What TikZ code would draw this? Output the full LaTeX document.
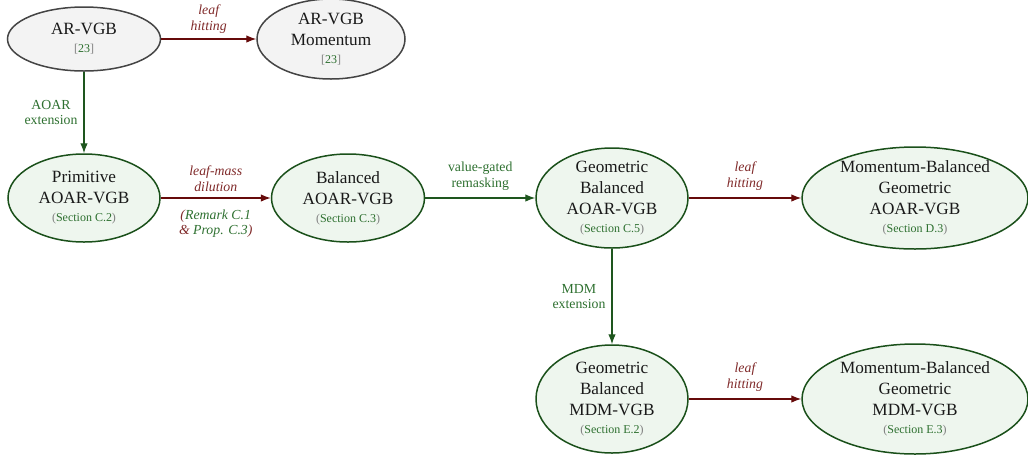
\documentclass[tikz,border=0pt]{standalone}
\usepackage{fontspec}
\setmainfont{Liberation Serif}
\usetikzlibrary{shapes.geometric,arrows.meta}
\definecolor{stageborder}{HTML}{1A501A}
\definecolor{stagefill}{HTML}{EEF6EE}
\definecolor{priorfill}{HTML}{F3F3F3}
\definecolor{priorborder}{HTML}{444444}
\definecolor{arrowred}{HTML}{660A0A}
\definecolor{labelred}{HTML}{802A2A}
\definecolor{linkgreen}{HTML}{2E7030}
\definecolor{arrowgreen}{HTML}{1E561E}
\newcommand{\mainsize}{\fontsize{17.2}{21}\selectfont}
\newcommand{\tagsize}{\fontsize{12}{14}\selectfont}
\newcommand{\lblsize}{\fontsize{13.8}{15.5}\selectfont}
\newcommand{\sectag}[1]{{\tagsize\color{gray}(\textcolor{linkgreen}{Section #1})}}
\newcommand{\citetag}[1]{{\tagsize\color{gray}[\textcolor{linkgreen}{#1}]}}
\begin{document}
\begin{tikzpicture}[x=1pt,y=-1pt,
  stage/.style={ellipse, draw=stageborder, fill=stagefill, line width=1.5pt,
    inner sep=-8pt, align=center, font=\mainsize, text=black!90},
  prior/.style={ellipse, draw=priorborder, fill=priorfill, line width=1.5pt,
    inner sep=-8pt, align=center, font=\mainsize, text=black!90},
  redarrow/.style={draw=arrowred, line width=1.2pt, -{Latex[length=10pt,width=7.5pt]}},
  greenarrow/.style={draw=arrowgreen, line width=1.2pt, -{Latex[length=10pt,width=7.5pt]}},
  redlbl/.style={align=center, font=\lblsize\itshape, text=labelred, inner sep=2pt},
  greenlbl/.style={align=center, font=\lblsize, text=linkgreen, inner sep=2pt}]
\useasboundingbox (0,0) rectangle (1028,459);

% earlier AR-VGB variants
\node[prior, minimum width=153pt, minimum height=64pt] (arvgb) at (84,39)
  {AR-VGB\\[-3pt]\citetag{23}};
\node[prior, minimum width=148pt, minimum height=80pt] (armom) at (331,39)
  {AR-VGB\\Momentum\\[-3pt]\citetag{23}};

% AOAR-VGB chain
\node[stage, minimum width=152pt, minimum height=88pt] (prim) at (84,198)
  {Primitive\\AOAR-VGB\\[-3pt]\sectag{C.2}};
\node[stage, minimum width=153pt, minimum height=88pt] (bal) at (348,198)
  {Balanced\\AOAR-VGB\\[-3pt]\sectag{C.3}};
\node[stage, minimum width=152pt, minimum height=100pt] (geo) at (612,198)
  {Geometric\\Balanced\\AOAR-VGB\\[-3pt]\sectag{C.5}};
\node[stage, minimum width=226pt, minimum height=102pt] (mbgeo) at (915,198)
  {Momentum-Balanced\\Geometric\\AOAR-VGB\\[-3pt]\sectag{D.3}};

% MDM-VGB chain
\node[stage, minimum width=152pt, minimum height=108pt] (geomdm) at (612,399)
  {Geometric\\Balanced\\MDM-VGB\\[-3pt]\sectag{E.2}};
\node[stage, minimum width=226pt, minimum height=110pt] (mbmdm) at (915,399)
  {Momentum-Balanced\\Geometric\\MDM-VGB\\[-3pt]\sectag{E.3}};

% connectors
\draw[redarrow] (arvgb) -- node[above=3pt, redlbl] {leaf\\hitting} (armom);
\draw[greenarrow] (arvgb) -- node[left=4pt, greenlbl] {AOAR\\extension} (prim);
\draw[redarrow] (prim) -- node[above=4pt, redlbl] {leaf-mass\\dilution}
  node[below=9pt, redlbl] {(\textcolor{linkgreen}{Remark C.1}\\\& \textcolor{linkgreen}{Prop. C.3})} (bal);
\draw[greenarrow] (bal) -- node[above=5pt, greenlbl] {value-gated\\remasking} (geo);
\draw[redarrow] (geo) -- node[above=5pt, redlbl] {leaf\\hitting} (mbgeo);
\draw[greenarrow] (geo) -- node[left=4pt, greenlbl] {MDM\\extension} (geomdm);
\draw[redarrow] (geomdm) -- node[above=5pt, redlbl] {leaf\\hitting} (mbmdm);
\end{tikzpicture}
\end{document}
